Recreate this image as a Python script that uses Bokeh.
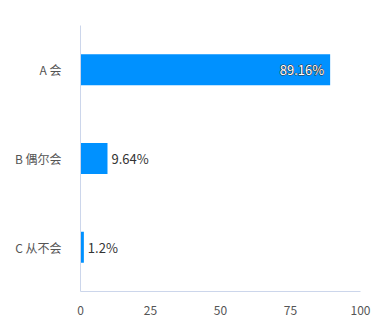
from bokeh.plotting import figure
from bokeh.models import ColumnDataSource, Range1d, FactorRange, FixedTicker
from bokeh.core.properties import value
from bokeh.embed import file_html
from bokeh.resources import INLINE

categories = ["A 会", "B 偶尔会", "C 从不会"]
percents = [89.16, 9.64, 1.2]
label_texts = ["89.16%", "9.64%", "1.2%"]
x_ticks = [0, 25, 50, 75, 100]

FONT = "Noto Sans CJK SC"

inside = [v > 50 for v in percents]
src_in = ColumnDataSource(dict(
    y=[c for c, i in zip(categories, inside) if i],
    x=[v for v, i in zip(percents, inside) if i],
    t=[t for t, i in zip(label_texts, inside) if i],
))
src_out = ColumnDataSource(dict(
    y=[c for c, i in zip(categories, inside) if not i],
    x=[v for v, i in zip(percents, inside) if not i],
    t=[t for t, i in zip(label_texts, inside) if not i],
))
src = ColumnDataSource(dict(y=categories, x=percents))

p = figure(width=375, height=331, output_backend="svg", toolbar_location=None,
           x_range=Range1d(0, 100),
           y_range=FactorRange(factors=list(reversed(categories)), range_padding=0),
           min_border_left=80, min_border_right=15, min_border_top=25, min_border_bottom=40)

p.hbar(y="y", right="x", left=0, height=0.35, source=src, color="#0091FF", line_color=None)

p.text(x="x", y="y", text="t", source=src_out, x_offset=4,
       text_align="left", text_baseline="middle", text_font=value(FONT),
       text_font_size="13px", text_color="#333333")
# dark halo under the white inside label
p.text(x="x", y="y", text="t", source=src_in, x_offset=-6,
       text_align="right", text_baseline="middle", text_font=value(FONT),
       text_font_size="13px", text_color="#333333",
       text_outline_color="#333333")
p.text(x="x", y="y", text="t", source=src_in, x_offset=-6,
       text_align="right", text_baseline="middle", text_font=value(FONT),
       text_font_size="13px", text_color="#ffffff")

p.outline_line_color = None
p.xgrid.visible = False
p.ygrid.visible = False
p.background_fill_color = "white"
p.border_fill_color = "white"

p.xaxis.ticker = FixedTicker(ticks=x_ticks)
p.xaxis.axis_line_color = "#ccd6eb"
p.xaxis.major_tick_line_color = None
p.xaxis.minor_tick_line_color = None
p.xaxis.major_label_standoff = 8
p.xaxis.major_label_text_font = FONT
p.xaxis.major_label_text_font_size = "12px"
p.xaxis.major_label_text_color = "#555555"

p.yaxis.axis_line_color = "#ccd6eb"
p.yaxis.major_tick_line_color = None
p.yaxis.minor_tick_line_color = None
p.yaxis.major_label_standoff = 13
p.yaxis.major_label_text_font = FONT
p.yaxis.major_label_text_font_size = "12px"
p.yaxis.major_label_text_color = "#555555"

open("out.html", "w").write(file_html(p, INLINE))
